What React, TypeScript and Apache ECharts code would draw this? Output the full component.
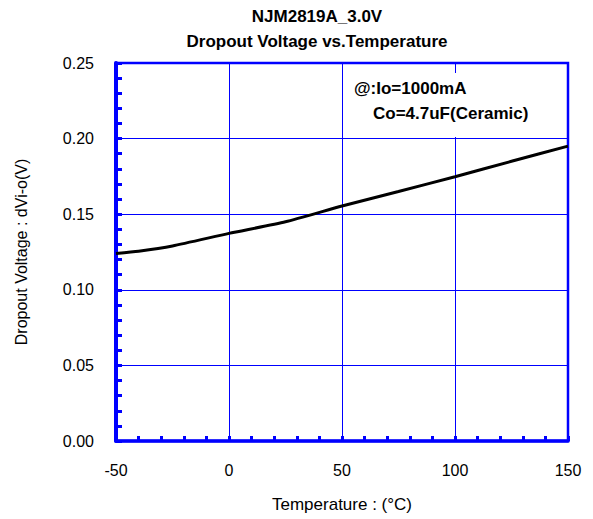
import React, { useEffect, useRef } from "react";
import * as echarts from "echarts";

const temps = [-50, -40, -25, 0, 25, 50, 75, 100, 125, 150];
const dropout = [0.124, 0.1255, 0.129, 0.1373, 0.145, 0.1554, 0.165, 0.1748, 0.185, 0.195];
const titleLines = ["NJM2819A_3.0V", "Dropout Voltage vs.Temperature"];
const noteLines = ["@:Io=1000mA", "Co=4.7uF(Ceramic)"];

const FONT = "'Liberation Sans', Arial, sans-serif";
const BLUE = "#0000ff";

export default function App() {
  const ref = useRef<HTMLDivElement>(null);
  useEffect(() => {
    if (!ref.current) return;
    const chart = echarts.init(ref.current, null, { renderer: "svg" });
    chart.setOption({
      animation: false,
      backgroundColor: "#ffffff",
      textStyle: { fontFamily: FONT },
      title: {
        text: titleLines.join("\n"),
        left: 317,
        top: 4,
        padding: 0,
        textAlign: "center",
        textStyle: { fontSize: 17, fontWeight: "bold", color: "#000", lineHeight: 25, fontFamily: FONT },
      },
      grid: {
        left: 116,
        right: 25,
        top: 63,
        bottom: 78,
        show: true,
        borderColor: BLUE,
        borderWidth: 2.5,
        backgroundColor: "transparent",
      },
      xAxis: {
        type: "value",
        min: -50,
        max: 150,
        interval: 50,
        name: "Temperature : (°C)",
        nameLocation: "middle",
        nameGap: 55,
        nameTextStyle: { fontSize: 17, color: "#000", fontFamily: FONT },
        axisLine: { show: true, onZero: false, lineStyle: { color: BLUE, width: 3.5 } },
        axisTick: { show: true, inside: true, length: 5, lineStyle: { color: BLUE, width: 3 } },
        minorTick: { show: true, splitNumber: 5, length: 5, lineStyle: { color: BLUE, width: 3 } },
        axisLabel: { fontSize: 16, color: "#000", margin: 21, fontFamily: FONT },
        splitLine: { show: true, lineStyle: { color: BLUE, width: 1 } },
      },
      yAxis: {
        type: "value",
        min: 0,
        max: 0.25,
        interval: 0.05,
        name: "Dropout Voltage : dVi-o(V)",
        nameLocation: "middle",
        nameRotate: 90,
        nameGap: 87,
        nameTextStyle: { fontSize: 16, color: "#000", fontFamily: FONT },
        axisLine: { show: true, onZero: false, lineStyle: { color: BLUE, width: 4 } },
        axisTick: { show: true, inside: true, length: 6, lineStyle: { color: BLUE, width: 3 } },
        minorTick: { show: true, splitNumber: 5, length: 6, lineStyle: { color: BLUE, width: 3 } },
        axisLabel: { fontSize: 16, color: "#000", margin: 22, fontFamily: FONT, formatter: (v: number) => v.toFixed(2) },
        splitLine: { show: true, lineStyle: { color: BLUE, width: 1 } },
      },
      graphic: [
        {
          type: "rect",
          z: 100,
          shape: { x: 348, y: 73, width: 216, height: 64 },
          style: { fill: "#ffffff" },
        },
        {
          type: "text",
          z: 101,
          x: 354,
          y: 88,
          style: { text: noteLines[0], fill: "#000", font: "bold 17px " + FONT, verticalAlign: "middle" },
        },
        {
          type: "text",
          z: 101,
          x: 373,
          y: 113,
          style: { text: noteLines[1], fill: "#000", font: "bold 17px " + FONT, verticalAlign: "middle" },
        },
      ],
      series: [
        {
          type: "line",
          data: temps.map((t, i) => [t, dropout[i]]),
          showSymbol: false,
          smooth: 0.2,
          lineStyle: { color: "#000", width: 3 },
          z: 5,
        },
      ],
    });
    return () => chart.dispose();
  }, []);
  return <div ref={ref} style={{ width: 593, height: 519, position: "absolute", left: 0, top: 0 }} />;
}
